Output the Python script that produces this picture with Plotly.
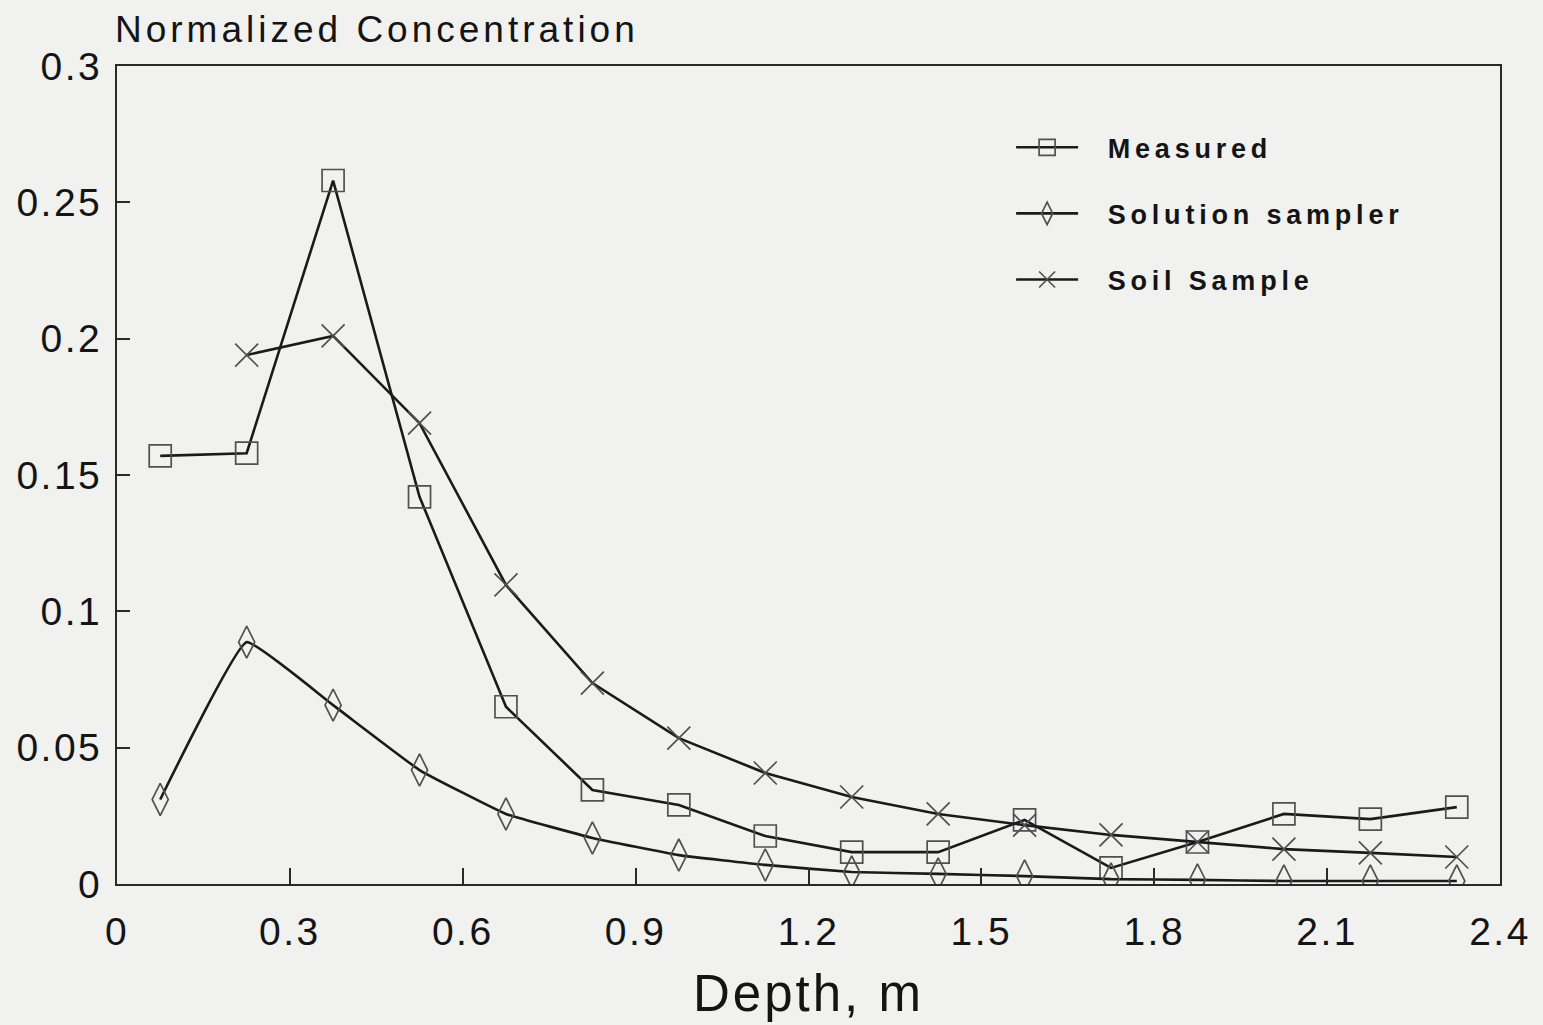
import plotly.graph_objects as go

depth = [0.075, 0.225, 0.375, 0.525, 0.675, 0.825, 0.975, 1.125, 1.275, 1.425, 1.575, 1.725, 1.875, 2.025, 2.175, 2.325]
measured = [0.157, 0.158, 0.258, 0.142, 0.065, 0.0345, 0.029, 0.0176, 0.0117, 0.0117, 0.0235, 0.0059, 0.0154, 0.0257, 0.0238, 0.0282]
solution = [0.031, 0.0887, 0.0656, 0.0418, 0.0257, 0.0169, 0.0106, 0.007, 0.0044, 0.0037, 0.0029, 0.0018, 0.0015, 0.0011, 0.0011, 0.0011]
soil_depth = depth[1:]
soil = [0.194, 0.201, 0.169, 0.1097, 0.0737, 0.0535, 0.0407, 0.0319, 0.0257, 0.0216, 0.018, 0.0154, 0.0128, 0.0114, 0.0099]

series_names = ["Measured", "Solution sampler", "Soil Sample"]
x_ticks = [0, 0.3, 0.6, 0.9, 1.2, 1.5, 1.8, 2.1, 2.4]
x_labels = ["0", "0.3", "0.6", "0.9", "1.2", "1.5", "1.8", "2.1", "2.4"]
y_ticks = [0, 0.05, 0.1, 0.15, 0.2, 0.25, 0.3]
y_labels = ["0", "0.05", "0.1", "0.15", "0.2", "0.25", "0.3"]
y_title = "Normalized Concentration"
x_title = "Depth, m"

LINE = "#1a1a1a"
MARK = "#505050"
BG = "#f1f1f0"
TXT = "#141414"
FONT = "Liberation Sans, Arial, sans-serif"


def spaced(s, px):
    return '<span style="letter-spacing:%.1fpx">%s</span>' % (px, s)


fig = go.Figure()
fig.add_trace(go.Scatter(
    x=depth, y=measured, name=spaced("  " + series_names[0], 4.8), mode="lines+markers",
    line=dict(color=LINE, width=2.6),
    marker=dict(symbol="square-open", size=22, color=MARK, line=dict(width=1.7, color=MARK)),
    legendgroup="a"))
fig.add_trace(go.Scatter(
    x=depth, y=solution, name=spaced("  " + series_names[1], 4.8), mode="lines+markers",
    line=dict(color=LINE, width=2.6, shape="spline", smoothing=0.3),
    marker=dict(symbol="diamond-tall-open", size=23, color=MARK, line=dict(width=1.7, color=MARK)),
    legendgroup="b"))
fig.add_trace(go.Scatter(
    x=soil_depth, y=soil, name=spaced("  " + series_names[2], 4.8), mode="lines+markers",
    line=dict(color=LINE, width=2.6),
    marker=dict(symbol="x-thin-open", size=23, color=MARK, line=dict(width=1.7, color=MARK)),
    legendgroup="c"))

fig.update_layout(
    width=1543, height=1025,
    paper_bgcolor=BG, plot_bgcolor=BG,
    margin=dict(l=117, r=40, t=66, b=141),
    font=dict(family=FONT, color=TXT),
    showlegend=True,
    legend=dict(
        x=0.6465, y=0.93, xanchor="left", yanchor="top",
        bgcolor="rgba(0,0,0,0)",
        font=dict(size=27, family=FONT, color=TXT, weight="bold"),
        tracegroupgap=28, traceorder="grouped", itemwidth=62,
    ),
    xaxis=dict(
        range=[0, 2.4], tickvals=x_ticks, ticktext=[spaced(t, 2.5) for t in x_labels],
        showgrid=False, zeroline=False,
        showline=True, mirror=True, linecolor="#2a2a2a", linewidth=1.8,
        ticks="inside", ticklen=16, tickwidth=1.5, tickcolor="#2a2a2a",
        tickfont=dict(size=39, family=FONT, color=TXT),
        ticklabelstandoff=12,
        title=dict(text=spaced(x_title, 3), font=dict(size=51, family=FONT, color=TXT), standoff=24),
    ),
    yaxis=dict(
        range=[0, 0.3], tickvals=y_ticks, ticktext=[spaced(t, 2.5) for t in y_labels],
        showgrid=False, zeroline=False,
        showline=True, mirror=True, linecolor="#2a2a2a", linewidth=1.8,
        ticks="inside", ticklen=13, tickwidth=1.5, tickcolor="#2a2a2a",
        tickfont=dict(size=39, family=FONT, color=TXT),
        ticklabelstandoff=5,
    ),
    annotations=[dict(
        text=spaced(y_title, 4), xref="paper", yref="paper",
        x=0, y=1, xanchor="left", yanchor="bottom", xshift=-4, yshift=14,
        showarrow=False, font=dict(size=37, family=FONT, color=TXT),
    )],
)

fig.write_html(
    "out.html",
    config={"displayModeBar": False},
    post_script="document.body.style.margin='0';document.body.style.background='%s';" % BG,
)
